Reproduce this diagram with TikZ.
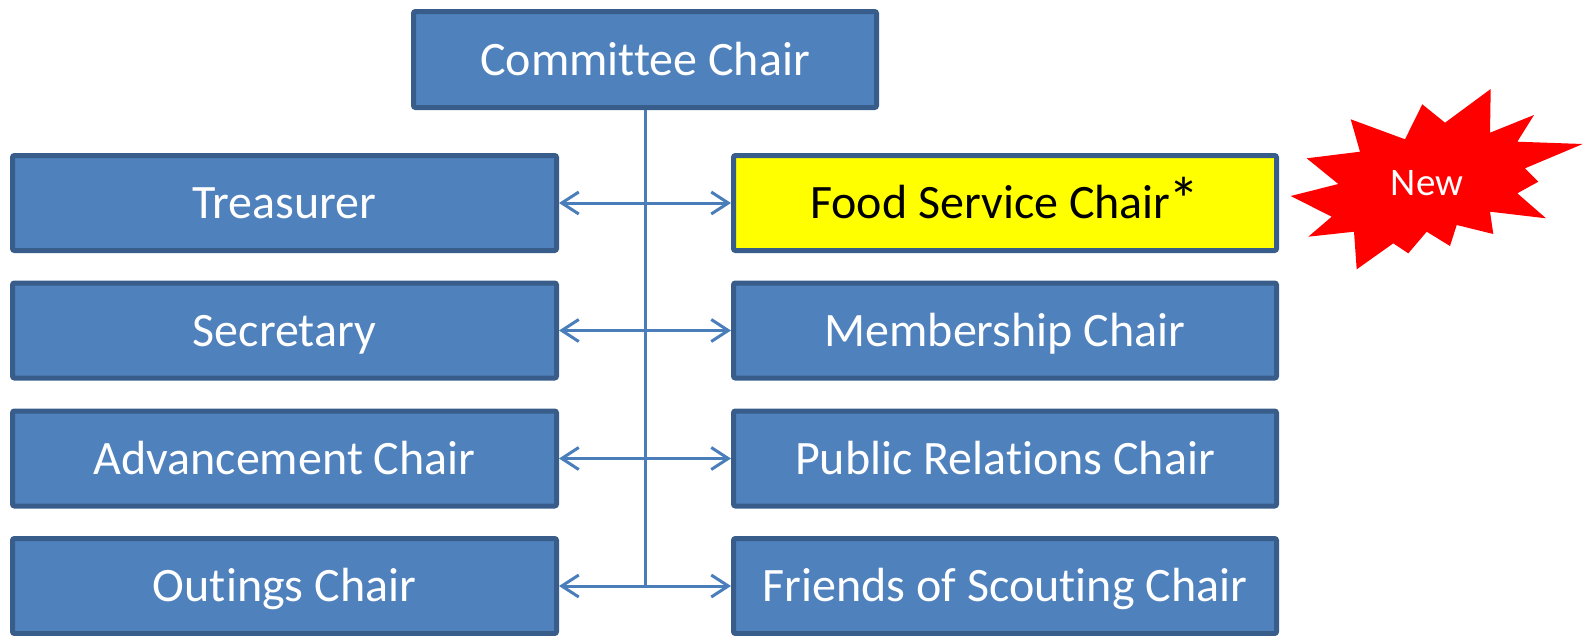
\documentclass[tikz,border=0pt]{standalone}
\usepackage{fontspec}
\setmainfont[Ligatures=NoCommon]{Carlito}
\usetikzlibrary{arrows.meta}
\definecolor{boxfill}{HTML}{4F81BD}
\definecolor{boxline}{HTML}{385D8A}
\definecolor{conn}{HTML}{4A7EBB}
\definecolor{newred}{HTML}{FF0000}
\definecolor{foodyellow}{HTML}{FFFF00}
\tikzset{
  rolebox/.style={draw=boxline, fill=boxfill, line width=5pt, rounded corners=2pt,
    minimum width=544pt, minimum height=95pt, inner sep=0pt, text=white,
    text height=31pt, text depth=0pt,
    font=\fontsize{48}{56}\selectfont},
  hilite/.style={rolebox, fill=foodyellow, text=black},
  conline/.style={draw=conn, line width=3pt},
  biarrow/.style={conline, {Straight Barb[length=17pt,width=22pt]}-{Straight Barb[length=17pt,width=22pt]}},
  burst/.style={fill=newred, draw=none},
  bursttext/.style={text=white, font=\fontsize{39}{46}\selectfont, inner sep=0pt,
    text height=25pt, text depth=0pt}
}
\begin{document}
\begin{tikzpicture}[x=1pt,y=-1pt]
\useasboundingbox (0,0) rectangle (1587,635);
\node[rolebox, minimum width=463pt, minimum height=96pt] (cc) at (645,59.5) {Committee Chair};
\node[rolebox] (t) at (284.5,203) {Treasurer};
\node[rolebox] (s) at (284.5,330.5) {Secretary};
\node[rolebox] (a) at (284.5,458.5) {Advancement Chair};
\node[rolebox] (o) at (284.5,586) {Outings Chair};
\node[hilite, minimum width=543pt] (f) at (1005,203) {Food Service Chair\kern-2pt\raisebox{-3pt}{\scalebox{1.3}{*}}};
\node[rolebox, minimum width=543pt] (m) at (1005,330.5) {Membership Chair};
\node[rolebox, minimum width=543pt] (p) at (1005,458.5) {Public Relations Chair};
\node[rolebox, minimum width=543pt] (fs) at (1005,586) {Friends of Scouting Chair};
\coordinate (bot) at (cc.south |- o.east);
\draw[conline] (cc.south) -- (bot);
\draw[biarrow] (t.east) -- (f.west);
\draw[biarrow] (s.east) -- (m.west);
\draw[biarrow] (a.east) -- (p.west);
\draw[biarrow] (o.east) -- (fs.west);
\path[burst] (1290.7,196) -- (1338.3,184) -- (1306.7,158.3) -- (1360,151.7) -- (1350.7,119.3)
  -- (1405,139.3) -- (1422.3,104.3) -- (1445,122.7) -- (1490.7,89) -- (1490,132.7)
  -- (1534,115) -- (1517.3,141.7) -- (1582.7,144) -- (1525,168.3) -- (1538.3,181.7)
  -- (1517.3,193.3) -- (1546,218.3) -- (1490,211.7) -- (1493.3,234) -- (1456.7,225)
  -- (1450,246) -- (1426.7,231.7) -- (1408.3,253.3) -- (1393.3,243.3) -- (1356.7,269.3)
  -- (1354,231.7) -- (1308.3,236.7) -- (1331.7,216.7) -- cycle;
\node[bursttext] (star) at (1427,183) {New};
\end{tikzpicture}
\end{document}
